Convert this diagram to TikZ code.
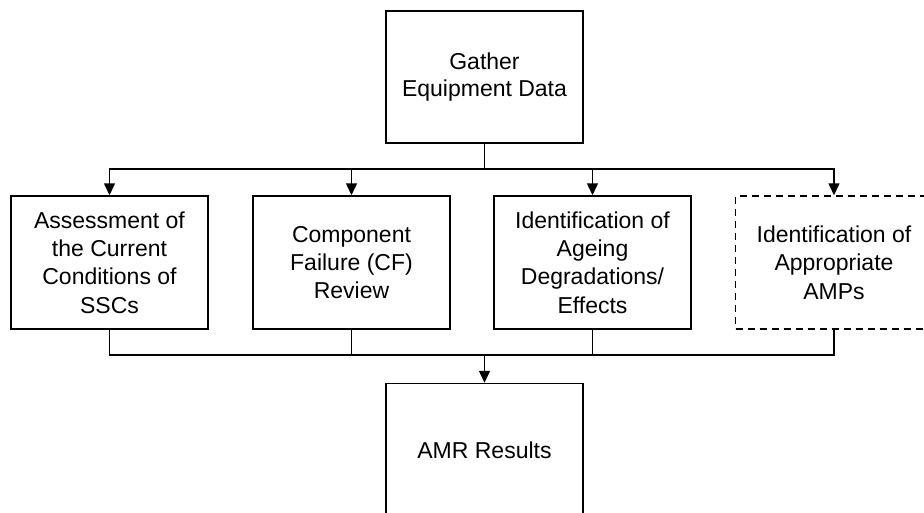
\documentclass[tikz,border=0pt]{standalone}
\usepackage{fontspec}
\setmainfont{Liberation Sans}
\usetikzlibrary{arrows.meta}
\begin{document}
\begin{tikzpicture}[x=1pt,y=-1pt,
  box/.style={draw, line width=1.5pt, minimum width=197pt, minimum height=133pt,
    align=center, inner sep=0pt, font=\fontsize{23}{28.3}\selectfont},
  dbox/.style={box, dash pattern=on 7pt off 5pt},
  conn/.style={line width=1.5pt},
  arr/.style={conn, -{Triangle[width=11pt,length=12pt]}}]
\useasboundingbox (0,0) rectangle (924,512);
\clip (0,0) rectangle (924,512);
\node[box, minimum height=132pt, font=\fontsize{23}{26.5}\selectfont] (top) at (484.5,77) {Gather\\Equipment Data};
\node[box] (b1) at (109.5,262.5) {Assessment of\\the Current\\Conditions of\\SSCs};
\node[box] (b2) at (351.5,262.5) {Component\\Failure (CF)\\Review};
\node[box] (b3) at (592.5,262.5) {Identification of\\Ageing\\Degradations/\\Effects};
\node[dbox] (b4) at (834,262.5) {Identification of\\Appropriate\\AMPs};
\node[box] (amr) at (484.5,450) {AMR Results};
\coordinate (split) at (484.5,169);
\coordinate (join) at (484.5,355);
\draw[conn] (top.south) -- (split);
\foreach \b in {b1,b2,b3,b4} {
  \draw[arr] (split) -| (\b.north);
  \draw[conn] (\b.south) |- (join);
}
\draw[arr] (join) -- (amr.north);
\end{tikzpicture}
\end{document}
